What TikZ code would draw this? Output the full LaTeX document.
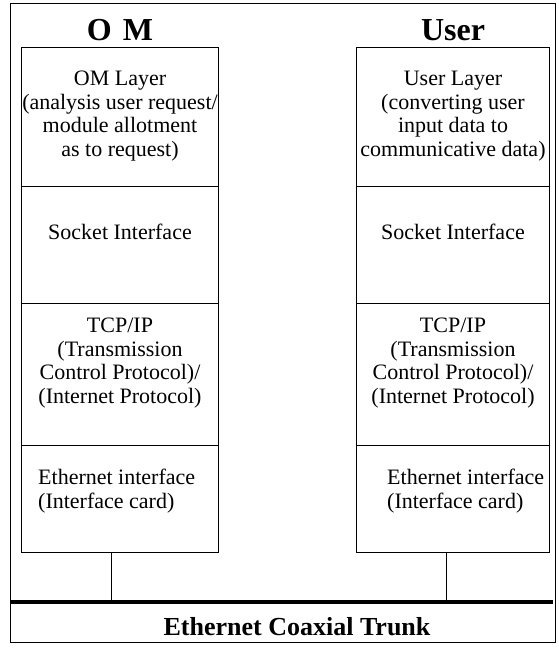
\documentclass[tikz,border=0pt]{standalone}
\usepackage{fontspec}
\setmainfont{Liberation Serif}
\begin{document}
\begin{tikzpicture}[x=1pt,y={(0pt,-1pt)},
  layerbox/.style={draw,line width=1.1pt,rectangle,inner sep=0pt,anchor=north west},
  bodytxt/.style={align=center,inner sep=0pt,font=\fontsize{22}{23.5}\selectfont},
  lefttxt/.style={align=left,inner sep=0pt,anchor=west,font=\fontsize{22}{23.5}\selectfont},
  titletxt/.style={inner sep=0pt,font=\fontsize{32}{36}\selectfont\bfseries},
  trunktxt/.style={inner sep=0pt,font=\fontsize{26}{30}\selectfont\bfseries}]
\useasboundingbox (0,0) rectangle (559,651);
% outer frame
\node (frame) [draw,line width=0.9pt,rectangle,inner sep=0pt,anchor=north west,minimum width=545pt,minimum height=639pt] at (10,3) {};
% titles
\node (omtitle) [titletxt] at (120,30) {O\hspace{11pt}M};
\node (usertitle) [titletxt] at (453,30) {User};
% OM column
\node (omL1) [layerbox,minimum width=197pt,minimum height=139pt] at (21,47) {};
\node (omL2) [layerbox,minimum width=197pt,minimum height=117pt] at (21,186) {};
\node (omL3) [layerbox,minimum width=197pt,minimum height=142pt] at (21,303) {};
\node (omL4) [layerbox,minimum width=197pt,minimum height=107pt] at (21,445) {};
% User column
\node (usL1) [layerbox,minimum width=193pt,minimum height=139pt] at (356,47) {};
\node (usL2) [layerbox,minimum width=193pt,minimum height=117pt] at (356,186) {};
\node (usL3) [layerbox,minimum width=193pt,minimum height=142pt] at (356,303) {};
\node (usL4) [layerbox,minimum width=193pt,minimum height=107pt] at (356,445) {};
% texts OM
\node (omT1) [bodytxt] at (120,116) {OM Layer\\(analysis user request/\\module allotment\\as to request)};
\node (omT2) [bodytxt] at (120,232) {Socket Interface};
\node (omT3) [bodytxt] at (120,363) {TCP/IP\\(Transmission\\Control Protocol)/\\(Internet Protocol)};
\node (omT4) [lefttxt] at (38,491) {Ethernet interface\\(Interface card)};
% texts User
\node (usT1) [bodytxt] at (453,116) {User Layer\\(converting user\\input data to\\communicative data)};
\node (usT2) [bodytxt] at (453,232) {Socket Interface};
\node (usT3) [bodytxt] at (453,363) {TCP/IP\\(Transmission\\Control Protocol)/\\(Internet Protocol)};
\node (usT4) [lefttxt] at (387,491) {Ethernet interface\\(Interface card)};
% trunk
\coordinate (barL) at (11,602);
\coordinate (barR) at (553,602);
\draw[line width=4.5pt] (barL) -- (barR);
\coordinate (omDrop) at (111,602);
\coordinate (usDrop) at (446,602);
\draw[line width=1pt] (omL4.south -| omDrop) -- (omDrop);
\draw[line width=1pt] (usL4.south -| usDrop) -- (usDrop);
\node (trunk) [trunktxt] at (297,627) {Ethernet Coaxial Trunk};
\end{tikzpicture}
\end{document}
